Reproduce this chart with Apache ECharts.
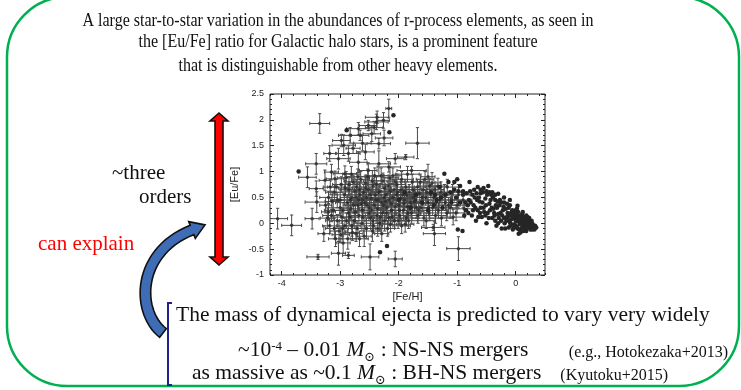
<!DOCTYPE html>
<html>
<head>
<meta charset="utf-8">
<script src="https://cdn.jsdelivr.net/npm/echarts@6/dist/echarts.min.js"></script>
<style>
html, body { margin: 0; padding: 0; background: #fff; }
#chart { width: 741px; height: 390px; }
</style>
</head>
<body>
<div id="chart"></div>
<script>
// [Fe/H], [Eu/Fe], error in [Fe/H], error in [Eu/Fe]
var errorStars = [
    [-3.35, 1.93, 0.17, 0.19], [-4.07, 0.09, 0.17, 0.20], [-3.83, -0.04, 0.17, 0.20],
    [-3.48, 0.09, 0.12, 0.20], [-3.56, 0.89, 0.15, 0.20], [-3.41, 1.15, 0.18, 0.20],
    [-3.41, 0.67, 0.12, 0.15], [-3.40, 0.41, 0.20, 0.20], [-3.38, -0.65, 0.19, 0.05],
    [-2.86, -0.62, 0.10, 0.06], [-3.03, -0.58, 0.12, 0.23], [-2.49, -0.65, 0.15, 0.25],
    [-2.06, -0.69, 0.12, 0.15], [-1.68, 1.55, 0.20, 0.30], [-1.88, 1.28, 0.14, 0.05],
    [-1.78, 1.02, 0.25, 0.08], [-1.50, 0.90, 0.12, 0.24], [-1.39, -0.20, 0.19, 0.23],
    [-1.41, -0.08, 0.20, 0.06], [-0.98, -0.49, 0.20, 0.23], [-2.17, 2.22, 0.05, 0.18],
    [-2.37, 2.05, 0.20, 0.12], [-2.52, 1.89, 0.15, 0.10], [-2.38, 1.96, 0.20, 0.15],
    [-2.26, 1.99, 0.10, 0.15], [-2.69, 1.83, 0.20, 0.12], [-2.83, 1.70, 0.20, 0.15],
    [-2.98, 1.60, 0.15, 0.12], [-2.94, 1.51, 0.20, 0.20], [-2.66, 1.70, 0.15, 0.10],
    [-2.46, 1.73, 0.15, 0.15], [-2.34, 1.54, 0.20, 0.10], [-2.57, 1.38, 0.15, 0.15],
    [-3.18, 1.35, 0.10, 0.15], [-2.86, 1.35, 0.20, 0.15], [-3.03, 1.25, 0.20, 0.20],
    [-2.69, 1.18, 0.15, 0.20], [-2.34, 1.15, 0.20, 0.25], [-2.06, 1.25, 0.15, 0.10],
    [-3.15, 0.99, 0.12, 0.15], [-2.92, 0.96, 0.20, 0.15], [-2.52, 1.02, 0.15, 0.15],
    [-2.17, 1.09, 0.20, 0.10], [-3.26, 0.83, 0.10, 0.20], [-3.09, 0.86, 0.15, 0.15],
    [-2.78, 1.45, 0.12, 0.10], [-2.62, 1.55, 0.15, 0.15], [-2.42, 1.85, 0.15, 0.12],
    [-2.25, 1.65, 0.15, 0.15], [-1.85, 0.95, 0.20, 0.15], [-1.55, 0.85, 0.15, 0.15],
    [-3.25, 0.35, 0.10, 0.15], [-3.22, 0.10, 0.12, 0.20], [-3.28, -0.20, 0.10, 0.15],
    [-3.20, 0.50, 0.15, 0.12], [-3.18, -0.05, 0.12, 0.15], [-3.12, 0.25, 0.15, 0.20],
    [-3.08, -0.30, 0.12, 0.15], [-3.10, 0.60, 0.15, 0.15], [-3.05, 0.05, 0.20, 0.12],
    [-3.14, 0.42, 0.12, 0.20], [-3.02, -0.15, 0.15, 0.20], [-2.98, 0.75, 0.15, 0.15],
    [-3.00, 0.30, 0.20, 0.15], [-2.95, -0.38, 0.12, 0.20], [-2.97, 0.12, 0.15, 0.12],
    [-2.93, 0.55, 0.20, 0.20], [-2.99, -0.22, 0.15, 0.15], [-2.90, 0.88, 0.15, 0.12],
    [-2.88, 0.40, 0.20, 0.15], [-2.86, 0.20, 0.15, 0.20], [-2.92, -0.05, 0.12, 0.15],
    [-2.85, 0.65, 0.15, 0.15], [-2.87, -0.30, 0.15, 0.20], [-2.80, 0.50, 0.20, 0.15],
    [-2.78, 0.80, 0.15, 0.12], [-2.82, 0.28, 0.15, 0.20], [-2.76, 0.05, 0.20, 0.15],
    [-2.79, -0.18, 0.12, 0.15], [-2.75, 0.62, 0.15, 0.20], [-2.81, 0.95, 0.15, 0.15],
    [-2.70, 0.35, 0.20, 0.15], [-2.72, 0.70, 0.15, 0.15], [-2.68, 0.15, 0.15, 0.20],
    [-2.66, 0.55, 0.20, 0.12], [-2.71, -0.10, 0.15, 0.15], [-2.65, 0.85, 0.15, 0.15],
    [-2.69, 0.45, 0.12, 0.20], [-2.60, 0.60, 0.20, 0.15], [-2.62, 0.25, 0.15, 0.15],
    [-2.58, 0.40, 0.15, 0.20], [-2.57, 0.78, 0.20, 0.15], [-2.63, 0.00, 0.15, 0.15],
    [-2.59, -0.25, 0.12, 0.20], [-2.55, 0.50, 0.15, 0.12], [-2.50, 0.30, 0.20, 0.15],
    [-2.52, 0.65, 0.15, 0.20], [-2.48, 0.10, 0.15, 0.15], [-2.47, 0.48, 0.20, 0.15],
    [-2.53, 0.90, 0.15, 0.15], [-2.45, -0.15, 0.15, 0.20], [-2.51, 0.20, 0.12, 0.15],
    [-2.40, 0.55, 0.20, 0.15], [-2.42, 0.35, 0.15, 0.20], [-2.38, 0.75, 0.15, 0.15],
    [-2.37, 0.15, 0.20, 0.15], [-2.43, -0.05, 0.15, 0.15], [-2.35, 0.45, 0.15, 0.20],
    [-2.41, 0.92, 0.15, 0.15], [-2.30, 0.40, 0.20, 0.15], [-2.32, 0.62, 0.15, 0.15],
    [-2.28, 0.20, 0.15, 0.20], [-2.27, 0.82, 0.20, 0.15], [-2.33, 0.00, 0.15, 0.15],
    [-2.25, 0.50, 0.15, 0.20], [-2.29, -0.20, 0.12, 0.15], [-2.20, 0.30, 0.20, 0.15],
    [-2.22, 0.55, 0.15, 0.20], [-2.18, 0.72, 0.15, 0.15], [-2.17, 0.10, 0.20, 0.15],
    [-2.23, 0.42, 0.15, 0.15], [-2.15, 0.88, 0.15, 0.20], [-2.19, -0.10, 0.12, 0.15],
    [-2.10, 0.50, 0.20, 0.15], [-2.12, 0.25, 0.15, 0.15], [-2.08, 0.65, 0.15, 0.20],
    [-2.07, 0.05, 0.20, 0.15], [-2.13, 0.38, 0.15, 0.15], [-2.05, 0.80, 0.15, 0.15],
    [-2.00, 0.35, 0.20, 0.20], [-2.02, 0.60, 0.15, 0.15], [-1.98, 0.15, 0.15, 0.15],
    [-1.97, 0.48, 0.20, 0.15], [-2.03, 0.75, 0.15, 0.20], [-1.95, -0.05, 0.15, 0.15],
    [-1.90, 0.45, 0.20, 0.15], [-1.92, 0.25, 0.15, 0.20], [-1.88, 0.70, 0.15, 0.15],
    [-1.87, 0.10, 0.20, 0.15], [-1.93, 0.55, 0.15, 0.15], [-1.85, 0.32, 0.15, 0.20],
    [-1.80, 0.40, 0.20, 0.15], [-1.82, 0.60, 0.15, 0.15], [-1.78, 0.20, 0.15, 0.20],
    [-1.77, 0.80, 0.20, 0.15], [-1.83, 0.05, 0.15, 0.15], [-1.75, 0.50, 0.15, 0.15],
    [-1.70, 0.30, 0.20, 0.20], [-1.72, 0.55, 0.15, 0.15], [-1.68, 0.70, 0.15, 0.15],
    [-1.67, 0.15, 0.20, 0.15], [-1.73, 0.42, 0.15, 0.20], [-1.60, 0.50, 0.20, 0.15],
    [-1.62, 0.30, 0.15, 0.15], [-1.58, 0.65, 0.15, 0.20], [-1.57, 0.10, 0.20, 0.15],
    [-1.63, 0.80, 0.15, 0.15], [-1.50, 0.40, 0.20, 0.15], [-1.52, 0.60, 0.15, 0.20],
    [-1.48, 0.20, 0.15, 0.15], [-1.47, 0.72, 0.20, 0.15], [-1.53, 0.05, 0.15, 0.15],
    [-1.40, 0.50, 0.20, 0.20], [-1.42, 0.30, 0.15, 0.15], [-1.38, 0.65, 0.15, 0.15],
    [-1.37, 0.15, 0.20, 0.15], [-1.43, 0.78, 0.15, 0.20], [-1.30, 0.45, 0.20, 0.15],
    [-1.32, 0.25, 0.15, 0.15], [-1.28, 0.60, 0.15, 0.20], [-1.27, 0.10, 0.20, 0.15],
    [-1.33, 0.72, 0.15, 0.15], [-1.20, 0.40, 0.20, 0.15], [-1.22, 0.55, 0.15, 0.20],
    [-1.18, 0.20, 0.15, 0.15], [-1.17, 0.70, 0.20, 0.15], [-1.10, 0.45, 0.20, 0.15],
    [-1.12, 0.30, 0.15, 0.20], [-1.08, 0.60, 0.15, 0.15], [-1.07, 0.12, 0.20, 0.15],
    [-1.00, 0.35, 0.15, 0.15], [-0.98, 0.55, 0.20, 0.20], [-1.02, 0.20, 0.15, 0.15],
    [-0.90, 0.45, 0.15, 0.15], [-0.88, 0.28, 0.20, 0.15],
    [-3.15, 0.15, 0.15, 0.12], [-3.05, 0.45, 0.12, 0.15], [-2.95, 0.25, 0.15, 0.15],
    [-2.91, 0.68, 0.12, 0.15], [-2.84, 0.12, 0.15, 0.15], [-2.83, 0.45, 0.20, 0.12],
    [-2.77, 0.35, 0.15, 0.15], [-2.74, 0.22, 0.12, 0.20], [-2.73, 0.50, 0.15, 0.15],
    [-2.67, 0.65, 0.20, 0.15], [-2.64, 0.38, 0.15, 0.12], [-2.61, 0.12, 0.20, 0.15],
    [-2.56, 0.68, 0.12, 0.20], [-2.54, 0.35, 0.15, 0.15], [-2.49, 0.55, 0.20, 0.15],
    [-2.46, 0.25, 0.15, 0.12], [-2.44, 0.72, 0.12, 0.15], [-2.39, 0.45, 0.20, 0.15],
    [-2.36, 0.28, 0.15, 0.20], [-2.34, 0.60, 0.15, 0.15], [-2.31, 0.12, 0.20, 0.15],
    [-2.26, 0.35, 0.15, 0.15], [-2.24, 0.68, 0.12, 0.20], [-2.21, 0.20, 0.15, 0.15],
    [-2.16, 0.45, 0.20, 0.12], [-2.14, 0.62, 0.15, 0.15], [-2.11, 0.12, 0.12, 0.15],
    [-2.06, 0.32, 0.20, 0.15], [-2.04, 0.55, 0.15, 0.20], [-1.99, 0.25, 0.15, 0.15],
    [-1.96, 0.65, 0.20, 0.15], [-1.91, 0.38, 0.15, 0.12], [-1.86, 0.55, 0.15, 0.15],
    [-1.84, 0.20, 0.20, 0.15], [-1.79, 0.32, 0.15, 0.20], [-1.76, 0.65, 0.15, 0.15],
    [-1.71, 0.45, 0.20, 0.15], [-1.66, 0.25, 0.15, 0.15], [-1.64, 0.58, 0.15, 0.20],
    [-1.59, 0.38, 0.20, 0.15], [-1.54, 0.50, 0.15, 0.15], [-1.49, 0.30, 0.15, 0.15],
    [-1.45, 0.55, 0.20, 0.20], [-1.36, 0.40, 0.15, 0.15], [-1.26, 0.50, 0.15, 0.15],
    [-1.15, 0.35, 0.20, 0.15], [-3.20, 0.22, 0.12, 0.15], [-3.00, 0.45, 0.15, 0.20],
    [-2.96, -0.10, 0.15, 0.15], [-2.89, 0.05, 0.12, 0.15], [-2.80, -0.05, 0.15, 0.20],
    [-2.73, -0.20, 0.12, 0.15], [-2.67, -0.30, 0.15, 0.15], [-2.62, 0.45, 0.20, 0.15],
    [-2.55, -0.10, 0.15, 0.20], [-2.44, 0.05, 0.15, 0.15], [-2.36, -0.10, 0.12, 0.15],
    [-2.24, 0.05, 0.15, 0.20], [-2.14, -0.02, 0.15, 0.15], [-2.01, 0.05, 0.12, 0.15],
    [-1.89, -0.02, 0.15, 0.15], [-2.85, 0.75, 0.15, 0.15], [-2.70, 0.90, 0.20, 0.15],
    [-2.45, 0.82, 0.15, 0.20], [-2.30, 0.92, 0.12, 0.15], [-2.10, 0.92, 0.15, 0.15],
    [-1.95, 0.85, 0.20, 0.15], [-3.10, -0.10, 0.15, 0.20], [-3.07, 0.70, 0.15, 0.15],
    [-3.17, 0.70, 0.12, 0.15]
];

// [Fe/H], [Eu/Fe] for stars drawn without error bars
var plainStars = [
    [-1.22, 0.96], [-1.05, 0.80], [-0.95, 0.72], [-0.79, 0.80], [-0.65, 0.70], [-0.55, 0.68],
    [-0.47, 0.72], [-0.40, 0.60], [-0.30, 0.57], [-0.20, 0.50], [-0.10, 0.45], [0.03, 0.34],
    [0.12, 0.22], [0.20, 0.12], [0.27, 0.02], [0.33, -0.05], [0.30, -0.10],
    [-0.95, 0.40], [-0.90, 0.55], [-0.85, 0.25], [-0.80, 0.45], [-0.78, 0.62], [-0.75, 0.15],
    [-0.72, 0.35], [-0.70, 0.50], [-0.68, 0.05], [-0.65, 0.25], [-0.62, 0.42], [-0.60, 0.58],
    [-0.58, 0.12], [-0.55, 0.30], [-0.52, 0.48], [-0.50, 0.00], [-0.48, 0.20], [-0.45, 0.38],
    [-0.42, 0.55], [-0.40, 0.10], [-0.38, 0.28], [-0.35, 0.45], [-0.33, -0.05], [-0.30, 0.18],
    [-0.28, 0.35], [-0.25, 0.05], [-0.22, 0.25], [-0.20, 0.40], [-0.18, -0.10], [-0.15, 0.12],
    [-0.12, 0.30], [-0.10, 0.02], [-0.08, 0.20], [-0.05, -0.12], [-0.03, 0.10], [0.00, 0.25],
    [0.00, -0.05], [0.02, 0.05], [0.04, 0.15], [0.05, -0.20], [0.07, -0.02], [0.08, 0.08],
    [0.10, -0.10], [0.12, 0.02], [0.13, 0.12], [0.15, -0.05], [0.17, 0.05], [0.18, -0.15],
    [0.20, -0.02], [0.22, 0.05], [0.24, -0.08], [0.26, -0.03], [0.28, -0.12], [0.31, -0.06],
    [-0.20, 0.10], [-0.16, 0.05], [-0.14, 0.20], [-0.11, 0.15], [-0.09, -0.05], [-0.07, 0.08],
    [-0.04, 0.18], [-0.02, -0.02], [0.01, 0.12], [0.03, -0.10], [0.06, 0.02], [0.09, 0.15],
    [0.11, -0.04], [0.14, 0.06], [0.16, -0.10], [0.19, 0.08], [0.21, -0.08], [0.23, 0.00],
    [-0.26, 0.20], [-0.24, -0.10], [-0.36, 0.15], [-0.44, 0.25], [-0.52, 0.15], [-0.60, 0.30],
    [-0.66, 0.45], [-0.74, 0.55], [-0.82, 0.35], [-0.88, 0.15], [-1.45, 0.60], [-1.35, 0.45],
    [-1.25, 0.30], [-1.30, 0.70], [-1.20, 0.55], [-1.15, 0.80], [-1.10, 0.40], [-1.05, 0.65],
    [-1.00, 0.85], [-0.99, -0.12], [-0.91, -0.15], [-2.20, -0.44], [-2.32, -0.56],
    [-2.89, 1.80], [-2.16, 1.76], [-2.09, 2.09], [-3.71, 1.00],
    [-0.35, 0.05], [-0.32, 0.30], [-0.29, 0.10], [-0.27, 0.45], [-0.23, 0.15], [-0.21, 0.32],
    [-0.19, 0.00], [-0.17, 0.28], [-0.13, 0.08], [-0.12, -0.08], [-0.10, 0.35], [-0.08, -0.02],
    [-0.06, 0.25], [-0.05, 0.12], [-0.03, -0.08], [-0.01, 0.18], [0.00, 0.05], [0.02, -0.08],
    [0.04, 0.22], [0.05, 0.08], [0.06, -0.12], [0.08, 0.00], [0.10, 0.10], [0.11, 0.18],
    [0.12, -0.10], [0.14, 0.00], [0.15, 0.10], [0.17, -0.08], [0.18, 0.15], [0.20, 0.05],
    [0.22, -0.05], [0.23, 0.10], [0.25, -0.12], [0.27, 0.05], [0.29, -0.02], [0.32, -0.12],
    [0.35, -0.08], [0.13, -0.15], [0.08, -0.18], [0.02, 0.28], [-0.15, 0.38], [-0.25, 0.40],
    [-0.90, 0.62], [-0.86, 0.40], [-0.84, 0.58], [-0.81, 0.20], [-0.77, 0.40], [-0.73, 0.25],
    [-0.71, 0.65], [-0.69, 0.30], [-0.67, 0.58], [-0.64, 0.12], [-0.63, 0.50], [-0.61, 0.20],
    [-0.57, 0.40], [-0.56, 0.60], [-0.54, 0.22], [-0.51, 0.35], [-0.49, 0.55], [-0.46, 0.10],
    [-0.43, 0.45], [-0.41, 0.30], [-0.39, 0.50], [-0.37, 0.20], [-0.34, 0.35], [-0.31, 0.42],
    [-0.30, 0.00], [-0.60, 0.65], [-0.50, 0.62], [-0.45, 0.60], [-0.35, 0.55], [-0.98, 0.62],
    [-1.02, 0.50], [-1.12, 0.60], [-1.28, 0.50], [-1.38, 0.55], [-1.40, 0.35], [-1.50, 0.25],
    [-1.60, 0.40], [-1.70, 0.55], [-1.80, 0.30], [-1.90, 0.60], [-2.00, 0.45]
];

var xLabelTicks = [-4, -3, -2, -1, 0];

var titleLines = [
    "A large star-to-star variation in the abundances of r-process elements, as seen in",
    "the [Eu/Fe] ratio for Galactic halo stars, is a prominent feature",
    "that is distinguishable from other heavy elements."
];

var SERIF = '"Liberation Serif", "Times New Roman", "DejaVu Serif", serif';
var SANS = '"Liberation Sans", Arial, Helvetica, sans-serif';

var measureCtx = document.createElement('canvas').getContext('2d');
function textWidth(str, size, italic) {
    measureCtx.font = (italic ? 'italic ' : '') + size + 'px ' + SERIF;
    return measureCtx.measureText(str).width;
}

// text placed by its baseline
function serifText(str, x, baseline, size, opts) {
    opts = opts || {};
    return {
        type: 'text',
        x: x,
        y: baseline - size * 0.34,
        scaleX: opts.scaleX || 1,
        style: {
            text: str,
            x: 0,
            y: 0,
            fill: opts.color || '#111',
            font: (opts.italic ? 'italic ' : '') + size + 'px ' + SERIF,
            align: opts.align || 'left',
            verticalAlign: 'middle'
        }
    };
}

// a row of text pieces with superscripts and subscripts
function textRun(pieces, x, baseline) {
    var out = [];
    pieces.forEach(function (p) {
        out.push(serifText(p.t, x, baseline + (p.dy || 0), p.s, {italic: p.italic}));
        x += textWidth(p.t, p.s, p.italic);
    });
    return out;
}

function curvedArrow(p0, p1, p2, p3, w0, w1, headW, headL) {
    var left = [], right = [];
    var n = 30, tx = 0, ty = 0, nx = 0, ny = 0;
    for (var i = 0; i <= n; i++) {
        var t = i / n, u = 1 - t;
        var x = u * u * u * p0[0] + 3 * u * u * t * p1[0] + 3 * u * t * t * p2[0] + t * t * t * p3[0];
        var y = u * u * u * p0[1] + 3 * u * u * t * p1[1] + 3 * u * t * t * p2[1] + t * t * t * p3[1];
        var dx = 3 * u * u * (p1[0] - p0[0]) + 6 * u * t * (p2[0] - p1[0]) + 3 * t * t * (p3[0] - p2[0]);
        var dy = 3 * u * u * (p1[1] - p0[1]) + 6 * u * t * (p2[1] - p1[1]) + 3 * t * t * (p3[1] - p2[1]);
        var len = Math.sqrt(dx * dx + dy * dy);
        tx = dx / len; ty = dy / len;
        nx = -ty; ny = tx;
        var w = (w0 + (w1 - w0) * t) / 2;
        left.push([x + nx * w, y + ny * w]);
        right.push([x - nx * w, y - ny * w]);
    }
    var tip = [p3[0] + tx * headL, p3[1] + ty * headL];
    var hl = [p3[0] + nx * headW, p3[1] + ny * headW];
    var hr = [p3[0] - nx * headW, p3[1] - ny * headW];
    return left.concat([hl, tip, hr]).concat(right.reverse());
}

function renderErrorBar(params, api) {
    var x = api.value(0), y = api.value(1), ex = api.value(2), ey = api.value(3);
    var l = api.coord([x - ex, y]), r = api.coord([x + ex, y]);
    var t = api.coord([x, y + ey]), b = api.coord([x, y - ey]);
    var c = 1.6;
    var st = {stroke: '#4a4a4a', lineWidth: 1};
    return {
        type: 'group',
        children: [
            {type: 'line', shape: {x1: l[0], y1: l[1], x2: r[0], y2: r[1]}, style: st},
            {type: 'line', shape: {x1: t[0], y1: t[1], x2: b[0], y2: b[1]}, style: st},
            {type: 'line', shape: {x1: l[0], y1: l[1] - c, x2: l[0], y2: l[1] + c}, style: st},
            {type: 'line', shape: {x1: r[0], y1: r[1] - c, x2: r[0], y2: r[1] + c}, style: st},
            {type: 'line', shape: {x1: t[0] - c, y1: t[1], x2: t[0] + c, y2: t[1]}, style: st},
            {type: 'line', shape: {x1: b[0] - c, y1: b[1], x2: b[0] + c, y2: b[1]}, style: st}
        ]
    };
}

var tickColor = '#222';
function xAxisDef(pos, major) {
    var ax = {
        type: 'value', min: -4.2, max: 0.5, position: pos,
        axisLine: {show: false, onZero: false}, splitLine: {show: false},
        axisLabel: {show: false},
        axisTick: {inside: true, length: major ? 4 : 2, lineStyle: {color: tickColor}}
    };
    if (major) {
        ax.axisTick.customValues = xLabelTicks;
    } else {
        ax.interval = 0.2;
    }
    return ax;
}

var chart = echarts.init(document.getElementById('chart'), null, {renderer: 'canvas'});

var graphics = [
    {type: 'rect', shape: {x: 7, y: -3, width: 732, height: 389, r: 60},
        style: {fill: 'none', stroke: '#00b050', lineWidth: 2.5}},
    {type: 'polygon', shape: {points: [[219, 113], [228, 121], [223, 121], [223, 257], [228, 257],
        [219, 265], [210, 257], [215, 257], [215, 121], [210, 121]]},
        style: {fill: '#ff0000', stroke: '#111', lineWidth: 1.6}},
    {type: 'polygon', shape: {points: curvedArrow([163, 333], [136, 312], [136, 252], [192, 230], 11, 10, 9, 14)},
        style: {fill: '#3f6db5', stroke: '#111', lineWidth: 1.6}},
    {type: 'polyline', shape: {points: [[172, 303], [168, 303], [168, 385], [172, 385]]},
        style: {stroke: '#1f2390', lineWidth: 2, fill: 'none'}},
    serifText('~three', 112, 181, 21),
    serifText('orders', 139, 205, 21),
    serifText('can explain', 38, 252, 21, {color: '#ff0000'}),
    serifText('The mass of dynamical ejecta is predicted to vary very widely', 176, 323, 21.5),
    serifText('(e.g., Hotokezaka+2013)', 728, 358, 16, {align: 'right'}),
    serifText('(Kyutoku+2015)', 668, 381, 16, {align: 'right'})
];
titleLines.forEach(function (line, i) {
    graphics.push(serifText(line, 338, [27.3, 48.5, 72.7][i], 18, {align: 'center', scaleX: 0.89}));
});
graphics = graphics.concat(textRun([
    {t: '~10', s: 21.5}, {t: '-4', s: 13, dy: -7}, {t: ' \u2013 0.01 ', s: 21.5},
    {t: 'M', s: 21.5, italic: true}, {t: '\u2299', s: 13, dy: 4}, {t: ' : NS-NS mergers', s: 21.5}
], 238, 358));
graphics = graphics.concat(textRun([
    {t: 'as massive as ~0.1 ', s: 21.5}, {t: 'M', s: 21.5, italic: true}, {t: '\u2299', s: 13, dy: 4},
    {t: ' : BH-NS mergers', s: 21.5}
], 192, 381));

chart.setOption({
    animation: false,
    backgroundColor: '#fff',
    grid: {left: 270, top: 94, width: 275, height: 181, show: true,
        borderColor: '#222', borderWidth: 1, backgroundColor: 'transparent'},
    xAxis: [
        {
            type: 'value', min: -4.2, max: 0.5, position: 'bottom',
            axisLine: {show: false, onZero: false}, splitLine: {show: false},
            axisTick: {inside: true, length: 4, customValues: xLabelTicks, lineStyle: {color: tickColor}},
            axisLabel: {customValues: xLabelTicks, fontSize: 9, color: '#222', fontFamily: SANS, margin: 4},
            name: '[Fe/H]', nameLocation: 'middle', nameGap: 16,
            nameTextStyle: {fontSize: 11, color: '#222', fontFamily: SANS}
        },
        xAxisDef('bottom', false),
        xAxisDef('top', true),
        xAxisDef('top', false)
    ],
    yAxis: [
        {
            type: 'value', min: -1, max: 2.5, interval: 0.5, position: 'left',
            axisLine: {show: false, onZero: false}, splitLine: {show: false},
            axisTick: {inside: true, length: 4, lineStyle: {color: tickColor}},
            minorTick: {show: true, splitNumber: 5, length: 2, lineStyle: {color: tickColor}},
            axisLabel: {fontSize: 9, color: '#222', fontFamily: SANS, margin: 6},
            name: '[Eu/Fe]', nameLocation: 'middle', nameGap: 30, nameRotate: 90,
            nameTextStyle: {fontSize: 11, color: '#222', fontFamily: SANS}
        },
        {
            type: 'value', min: -1, max: 2.5, interval: 0.5, position: 'right',
            axisLine: {show: false, onZero: false}, splitLine: {show: false}, axisLabel: {show: false},
            axisTick: {inside: true, length: 4, lineStyle: {color: tickColor}},
            minorTick: {show: true, splitNumber: 5, length: 2, lineStyle: {color: tickColor}}
        }
    ],
    series: [
        {
            type: 'custom', xAxisIndex: 0, yAxisIndex: 0,
            renderItem: renderErrorBar, data: errorStars,
            encode: {x: 0, y: 1}, clip: true, z: 2
        },
        {
            type: 'scatter', xAxisIndex: 0, yAxisIndex: 0,
            data: errorStars.map(function (d) { return [d[0], d[1]]; }),
            symbolSize: 3.5, itemStyle: {color: '#2b2b2b'}, z: 3
        },
        {
            type: 'scatter', xAxisIndex: 0, yAxisIndex: 0,
            data: plainStars, symbolSize: 4.5,
            itemStyle: {color: '#262626', opacity: 1}, z: 4
        }
    ],
    graphic: graphics
});
</script>
</body>
</html>
